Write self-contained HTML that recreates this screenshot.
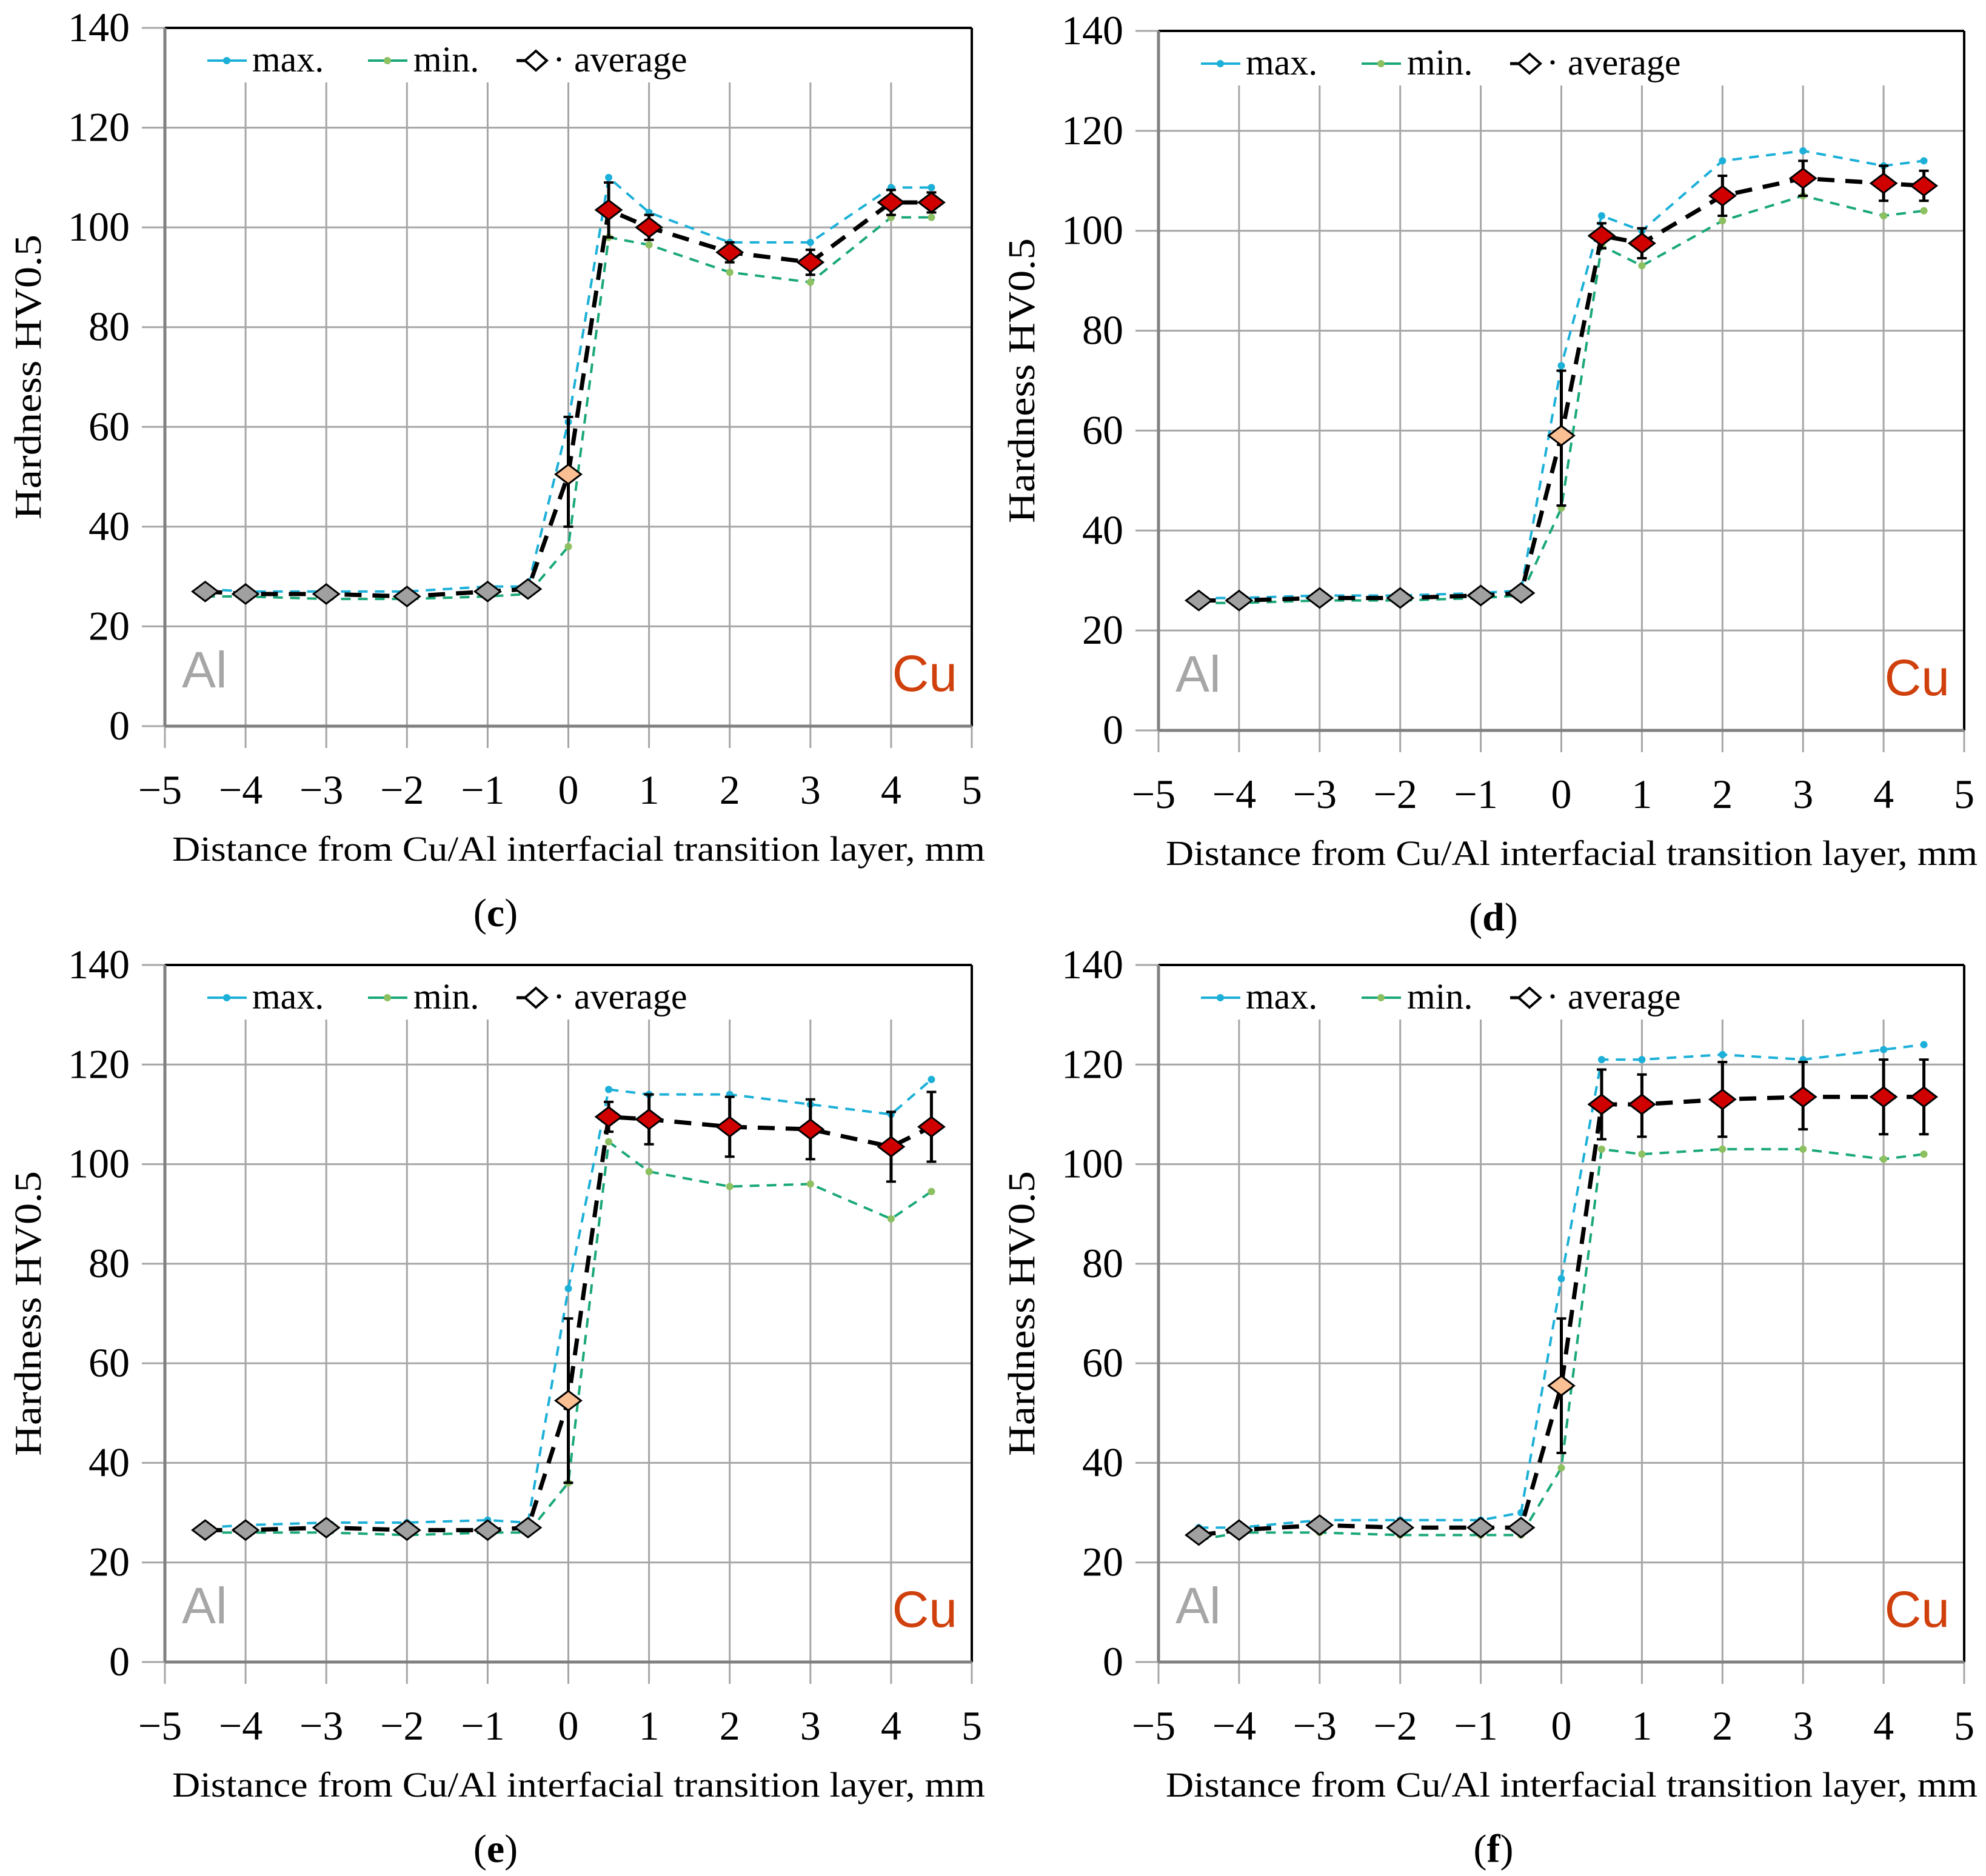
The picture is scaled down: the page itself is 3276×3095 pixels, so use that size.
<!DOCTYPE html>
<html><head><meta charset="utf-8"><style>
html,body{margin:0;padding:0;background:#fff;}
svg{display:block;}
</style></head><body>
<svg id="fig" width="3276" height="3095" viewBox="0 0 3276 3095" xmlns="http://www.w3.org/2000/svg" font-family="'Liberation Serif', serif"></svg>
<script>
const xVals = [-4.5,-4,-3,-2,-1,-0.5,0,0.5,1,2,3,4,4.5];
const xTicks = [-5,-4,-3,-2,-1,0,1,2,3,4,5];
const xTickLabels = ['\u22125','\u22124','\u22123','\u22122','\u22121','0','1','2','3','4','5'];
const yTicks = [0,20,40,60,80,100,120,140];
const panelLabels = ['c','d','e','f'];

const avgC = [27,26.5,26.5,26,27,27.5,50.5,103.5,100,95,93,105,105];
const maxC = [27.5,27,27,27,28,28,61,110,103,97,97,108,108];
const minC = [26,26,25.5,25.5,26,26.5,36,98,96.5,91,89,102,102];
const loC  = [26,25.5,25.5,25,26,26.5,40,98,97.5,93,90.5,102.5,103];
const hiC  = [28,27.5,27.5,27,28,28.5,62,109,102.5,97,95.5,107.5,107];

const avgD = [26,26,26.5,26.5,27,27.5,59,99,97.5,107,110.5,109.5,109];
const maxD = [26.5,26.5,27,27,27.5,28,73,103,100,114,116,113,114];
const minD = [25.5,25.5,26,26,26.5,27,44.5,97,93,102,107,103,104];
const loD  = [25,25,25.5,25.5,26,26.5,45,96.5,94.5,103,107,106,106];
const hiD  = [27,27,27.5,27.5,28,28.5,72,101.5,100.5,111,114,113,112];

const avgE = [26.5,26.5,27,26.5,26.5,27,52.5,109.5,109,107.5,107,103.5,107.5];
const maxE = [27,27.5,28,28,28.5,28,75,115,114,114,112,110,117];
const minE = [26,26,26,25.5,26,26,36,104.5,98.5,95.5,96,89,94.5];
const loE  = [25.5,25.5,26,25.5,25.5,26,36,106.5,104,101.5,101,96.5,100.5];
const hiE  = [27.5,27.5,28,27.5,27.5,28,69,112.5,114,113.5,113,110.5,114.5];

const avgF = [25.5,26.5,27.5,27,27,27,55.5,112,112,113,113.5,113.5,113.5];
const maxF = [27,27,28.5,28.5,28.5,30,77,121,121,122,121,123,124];
const minF = [24.5,26,26,25.5,25.5,25.5,39,103,102,103,103,101,102];
const loF  = [24.5,25.5,26.5,26,26,26,42,105,105.5,105.5,107,106,106];
const hiF  = [26.5,27.5,28.5,28,28,28,69,119,118,120.5,120.5,121,121];

const panels = [
 {L:272,R:1603,T:46,B:1198, avg:avgC,max:maxC,min:minC,lo:loC,hi:hiC},
 {L:1911,R:3240,T:51,B:1205, avg:avgD,max:maxD,min:minD,lo:loD,hi:hiD},
 {L:272,R:1603,T:1592,B:2742, avg:avgE,max:maxE,min:minE,lo:loE,hi:hiE},
 {L:1911,R:3240,T:1592,B:2742, avg:avgF,max:maxF,min:minF,lo:loF,hi:hiF}
];

const NS='http://www.w3.org/2000/svg';
const svg=document.getElementById('fig');
function mk(tag,attrs,parent){const e=document.createElementNS(NS,tag);for(const k in attrs)e.setAttribute(k,attrs[k]);(parent||svg).appendChild(e);return e;}

panels.forEach((p,pi)=>{
  const g=mk('g',{});
  
  
  const sx=v=>p.L+(v+5)/10*(p.R-p.L);
  const sy=v=>p.B-v/140*(p.B-p.T);
  const gridTop=p.T+90;
  yTicks.forEach(t=>{
    if(t>0&&t<140){const l=mk('line',{x1:p.L,x2:p.R,y1:sy(t),y2:sy(t),stroke:'#a6a6a6','stroke-width':3},g);
    }
    const tk=mk('line',{x1:p.L-38,x2:p.L,y1:sy(t),y2:sy(t),stroke:'#a6a6a6','stroke-width':3},g);
    
    const tx=mk('text',{x:p.L-58,y:sy(t)+22,'text-anchor':'end','font-size':68},g);
    tx.textContent=t;
    
  });
  xTicks.forEach((t,i)=>{
    if(t>-5&&t<5){const l=mk('line',{x1:sx(t),x2:sx(t),y1:gridTop,y2:p.B,stroke:'#a6a6a6','stroke-width':3},g);
    }
    const tk=mk('line',{x1:sx(t),x2:sx(t),y1:p.B,y2:p.B+36,stroke:'#a6a6a6','stroke-width':3},g);
    
    const tx=mk('text',{x:sx(t)-(t<0?8:0),y:p.B+128,'text-anchor':'middle','font-size':68},g);
    tx.textContent=xTickLabels[i];
    
  });
  mk('line',{x1:p.L,x2:p.R,y1:p.T,y2:p.T,stroke:'#000','stroke-width':4},g);
  mk('line',{x1:p.R,x2:p.R,y1:p.T,y2:p.B,stroke:'#000','stroke-width':4},g);
  const ax1=mk('line',{x1:p.L,x2:p.L,y1:p.T,y2:p.B,stroke:'#808080','stroke-width':5},g);
  
  const ax2=mk('line',{x1:p.L,x2:p.R,y1:p.B,y2:p.B,stroke:'#808080','stroke-width':5},g);
  
  const al=mk('text',{x:p.L+28,y:p.B-64,'font-family':"'Liberation Sans', sans-serif",'font-size':84,fill:'#a6a6a6'},g);
  al.textContent='Al';
  const cu=mk('text',{x:p.R-24,y:p.B-58,'text-anchor':'end','font-family':"'Liberation Sans', sans-serif",'font-size':84,fill:'#d0400c'},g);
  cu.textContent='Cu';
  const pts=arr=>arr.map((v,i)=>sx(xVals[i])+','+sy(v)).join(' ');
  const sMax=mk('polyline',{points:pts(p.max),fill:'none',stroke:'#1cb0d8','stroke-width':4,'stroke-dasharray':'16 12'},g);
  
  const sMin=mk('polyline',{points:pts(p.min),fill:'none',stroke:'#1aa878','stroke-width':4,'stroke-dasharray':'16 12'},g);
  
  p.max.forEach((v,i)=>{const c=mk('circle',{cx:sx(xVals[i]),cy:sy(v),r:6,fill:'#1cb0d8'},g);
    });
  p.min.forEach((v,i)=>{const c=mk('circle',{cx:sx(xVals[i]),cy:sy(v),r:6,fill:'#8cc060'},g);
    });
  const sAvg=mk('polyline',{points:pts(p.avg),fill:'none',stroke:'#000','stroke-width':7,'stroke-dasharray':'28 18'},g);
  
  p.avg.forEach((v,i)=>{
    const x=sx(xVals[i]);
    const eb=mk('line',{x1:x,x2:x,y1:sy(p.lo[i]),y2:sy(p.hi[i]),stroke:'#000','stroke-width':5},g);
    
    [p.lo[i],p.hi[i]].forEach(e=>{mk('line',{x1:x-8,x2:x+8,y1:sy(e),y2:sy(e),stroke:'#000','stroke-width':4},g);});
  });
  p.avg.forEach((v,i)=>{
    const x=sx(xVals[i]),y=sy(v);
    const fill=xVals[i]<0?'#a0a0a0':(xVals[i]===0?'#fbbf94':'#d00000');
    const d=mk('polygon',{points:`${x-21},${y} ${x},${y-16} ${x+21},${y} ${x},${y+16}`,fill:fill,stroke:'#000','stroke-width':3},g);
    
  });
  const lg=mk('g',{},g);
  
  const ly=p.T+54;
  mk('line',{x1:p.L+70,x2:p.L+135,y1:ly,y2:ly,stroke:'#1cb0d8','stroke-width':4},lg);
  mk('circle',{cx:p.L+102,cy:ly,r:6,fill:'#1cb0d8'},lg);
  const t1=mk('text',{x:p.L+144,y:ly+18,'font-size':60},lg);t1.textContent='max.';
  
  mk('line',{x1:p.L+335,x2:p.L+400,y1:ly,y2:ly,stroke:'#1aa878','stroke-width':4},lg);
  mk('circle',{cx:p.L+367,cy:ly,r:6,fill:'#8cc060'},lg);
  const t2=mk('text',{x:p.L+410,y:ly+18,'font-size':60},lg);t2.textContent='min.';
  
  mk('line',{x1:p.L+580,x2:p.L+630,y1:ly,y2:ly,stroke:'#000','stroke-width':5},lg);
  const lx=p.L+612;
  mk('polygon',{points:`${lx-18},${ly} ${lx},${ly-16} ${lx+18},${ly} ${lx},${ly+16}`,fill:'#fff',stroke:'#000','stroke-width':4},lg);
  const t3=mk('text',{x:p.L+640,y:ly+18,'font-size':60},lg);t3.textContent='\u00b7 average';
  
  const xt=mk('text',{x:p.L+12,y:p.B+222,'font-size':58,textLength:p.R-p.L+10,lengthAdjust:'spacingAndGlyphs'},g);
  xt.textContent='Distance from Cu/Al interfacial transition layer, mm';
  
  const ycx=p.L-205, ycy=(p.T+p.B)/2;
  const yt=mk('text',{x:ycx,y:ycy,'font-size':62,'text-anchor':'middle',transform:`rotate(-90 ${ycx} ${ycy})`,textLength:470,lengthAdjust:'spacingAndGlyphs'},g);
  yt.textContent='Hardness HV0.5';
  
  const pl=mk('text',{x:(p.L+p.R)/2-120+(pi%2?8:0),y:p.B+330,'text-anchor':'middle','font-size':66},g);
  pl.innerHTML='(<tspan font-weight="bold">'+panelLabels[pi]+'</tspan>)';
  
});
</script>
</body></html>
